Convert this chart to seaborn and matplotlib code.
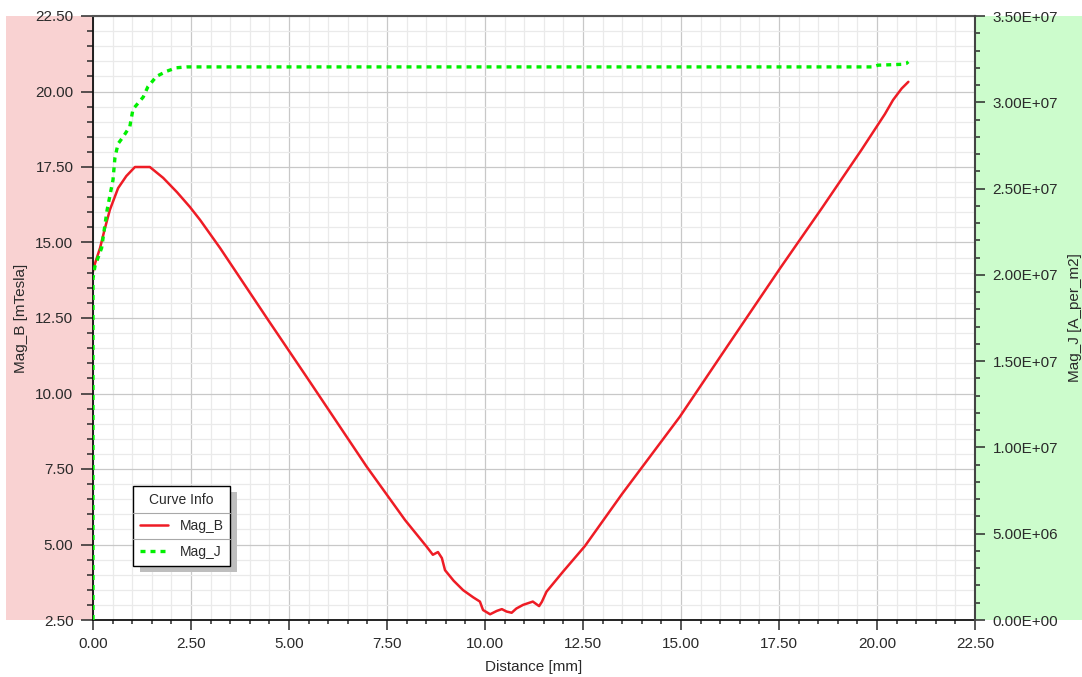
import matplotlib
matplotlib.use("Agg")
import matplotlib.pyplot as plt
import numpy as np
import pandas as pd
import seaborn as sns
from matplotlib.ticker import MultipleLocator, FuncFormatter
from matplotlib.patches import Rectangle
from matplotlib.lines import Line2D

# ---------------- data ----------------
distance_b = [0.00, 0.05, 0.18, 0.30, 0.43, 0.64, 0.85, 1.07, 1.45, 1.79, 2.14, 2.47, 2.73,
              3.24, 4.47, 5.50, 6.98, 7.96, 8.51, 8.67, 8.80, 8.90, 8.98, 9.20, 9.44, 9.70,
              9.87, 9.95, 10.13, 10.30, 10.43, 10.55, 10.68, 10.80, 10.97, 11.22, 11.38,
              11.45, 11.57, 11.99, 12.55, 13.50, 14.97, 16.20, 17.53, 18.60, 19.60, 20.20,
              20.41, 20.63, 20.80]
mag_b = [14.05, 14.30, 14.82, 15.45, 16.08, 16.80, 17.20, 17.50, 17.50, 17.14, 16.67, 16.18,
         15.75, 14.82, 12.43, 10.45, 7.58, 5.81, 4.93, 4.66, 4.75, 4.55, 4.15, 3.80, 3.49,
         3.25, 3.11, 2.83, 2.69, 2.80, 2.86, 2.78, 2.74, 2.88, 3.00, 3.11, 2.96, 3.10, 3.44,
         4.10, 4.95, 6.68, 9.23, 11.60, 14.15, 16.15, 18.06, 19.25, 19.72, 20.10, 20.32]

distance_j = [0.00, 0.00, 0.05, 0.22, 0.36, 0.51, 0.56, 0.64, 0.77, 0.94, 1.02, 1.28, 1.40,
              1.62, 1.88, 2.13, 2.39, 19.90, 20.03, 20.63, 20.75, 20.80]
mag_j = [0.0, 1.98e7, 2.05e7, 2.156e7, 2.376e7, 2.55e7, 2.68e7, 2.76e7, 2.80e7, 2.86e7,
         2.96e7, 3.03e7, 3.09e7, 3.15e7, 3.18e7, 3.20e7, 3.205e7, 3.205e7, 3.215e7, 3.22e7,
         3.225e7, 3.235e7]

series_names = ["Mag_B", "Mag_J"]
legend_title = "Curve Info"
x_label = "Distance [mm]"
y_label_left = "Mag_B [mTesla]"
y_label_right = "Mag_J [A_per_m2]"

# ---------------- style ----------------
sns.set_style("white")
plt.rcParams['font.family'] = ['Liberation Sans', 'DejaVu Sans']
TXT = '#2A2A2A'
FS = 11

W, H = 1082, 677
L, R, T, B = 93, 975, 16, 620
fig = plt.figure(figsize=(W / 100, H / 100), dpi=100)
fig.patch.set_facecolor('white')

def frac_rect(x0, y0, x1, y1):
    return (x0 / W, 1 - y1 / H), (x1 - x0) / W, (y1 - y0) / H

# side panels
xy, w, h = frac_rect(6, T, L, B)
fig.add_artist(Rectangle(xy, w, h, transform=fig.transFigure, facecolor='#F9D2D2',
                         edgecolor='none', zorder=-1))
xy, w, h = frac_rect(R, T, W, B)
fig.add_artist(Rectangle(xy, w, h, transform=fig.transFigure, facecolor='#CCFCCC',
                         edgecolor='none', zorder=-1))

ax = fig.add_axes([L / W, 1 - B / H, (R - L) / W, (B - T) / H])
ax.set_facecolor('white')

dfb = pd.DataFrame({'Distance': distance_b, 'Mag_B': mag_b})
dfj = pd.DataFrame({'Distance': distance_j, 'Mag_J': mag_j})

sns.lineplot(data=dfb, x='Distance', y='Mag_B', ax=ax, color='#EE1C25', lw=1.8,
             estimator=None, sort=False, legend=False)
ax2 = ax.twinx()
sns.lineplot(data=dfj, x='Distance', y='Mag_J', ax=ax2, color='#00F000', lw=2.4,
             estimator=None, sort=False, legend=False, linestyle=(0, (1.5, 1.5)))

ax.set_xlim(0, 22.5)
ax.set_ylim(2.5, 22.5)
ax2.set_ylim(0, 3.5e7)

ax.xaxis.set_major_locator(MultipleLocator(2.5))
ax.xaxis.set_minor_locator(MultipleLocator(0.5))
ax.yaxis.set_major_locator(MultipleLocator(2.5))
ax.yaxis.set_minor_locator(MultipleLocator(0.5))
ax2.yaxis.set_major_locator(MultipleLocator(5e6))
ax2.yaxis.set_minor_locator(MultipleLocator(1e6))
ax.xaxis.set_major_formatter(FuncFormatter(lambda v, p: f"{v:.2f}"))
ax.yaxis.set_major_formatter(FuncFormatter(lambda v, p: f"{v:.2f}"))
ax2.yaxis.set_major_formatter(FuncFormatter(lambda v, p: f"{v:.2E}"))

ax.grid(True, which='major', color='#C8C8C8', lw=0.9)
ax.grid(True, which='minor', color='#EAEAEA', lw=0.9)
ax.set_axisbelow(True)

ax.tick_params(axis='y', which='both', left=True, right=False, direction='out',
               color=TXT, width=1.1, labelsize=FS, labelcolor=TXT, pad=5.5)
ax.tick_params(axis='y', which='major', length=8.6)
ax.tick_params(axis='y', which='minor', length=4.3)
ax.tick_params(axis='x', which='both', bottom=True, top=False, direction='out',
               color=TXT, width=1.1, labelsize=FS, labelcolor=TXT, pad=5)
ax.tick_params(axis='x', which='major', length=7.5)
ax.tick_params(axis='x', which='minor', length=3.0)
ax2.tick_params(axis='y', which='both', right=True, left=False, direction='out',
                color=TXT, width=1.1, labelsize=FS, labelcolor=TXT, pad=5.5)
ax2.tick_params(axis='y', which='major', length=7.2)
ax2.tick_params(axis='y', which='minor', length=3.6)

for s in ['left', 'bottom']:
    ax.spines[s].set_color('#111111'); ax.spines[s].set_linewidth(1.3)
ax.spines['top'].set_color('#555555'); ax.spines['top'].set_linewidth(1.5)
ax.spines['right'].set_visible(False)
for s in ['left', 'bottom', 'top']:
    ax2.spines[s].set_visible(False)
ax2.spines['right'].set_visible(True)
ax2.spines['right'].set_color('#444444'); ax2.spines['right'].set_linewidth(1.5)

ax.set_xlabel(x_label, fontsize=FS, color=TXT)
ax.xaxis.set_label_coords(0.5, -0.066)
ax.set_ylabel(y_label_left, fontsize=FS, color=TXT)
ax.yaxis.set_label_coords(-0.074, 0.5)
ax2.set_ylabel(y_label_right, fontsize=FS, color=TXT)
ax2.yaxis.set_label_coords(1.1054, 0.5)

# legend
handles = [ax.lines[0], ax2.lines[0]]
leg = ax2.legend(handles, series_names, title=legend_title, loc='upper left',
                 bbox_to_anchor=(133 / W, 1 - 486 / H), bbox_transform=fig.transFigure,
                 borderaxespad=0, frameon=True, fancybox=False, edgecolor='black',
                 framealpha=1, fontsize=10, title_fontsize=10, handlelength=2.0,
                 handletextpad=0.85, borderpad=0.5, labelspacing=0.85)
leg.get_frame().set_linewidth(1.0)
for t in leg.get_texts():
    t.set_color(TXT)
leg.get_title().set_color(TXT)

fig.canvas.draw()
r = fig.canvas.get_renderer()
fb = leg.get_frame().get_window_extent(r)
inv = fig.transFigure.inverted()
# shadow
(sx0, sy0) = inv.transform((fb.x0 + 7, fb.y0 - 6))
(sx1, sy1) = inv.transform((fb.x1 + 7, fb.y1 - 6))
ax2.add_patch(Rectangle((sx0, sy0), sx1 - sx0, sy1 - sy0, transform=fig.transFigure,
                        facecolor='#BEBEBE', edgecolor='none', zorder=4.5, clip_on=False))
tb = leg.get_title().get_window_extent(r)
t1, t2 = [t.get_window_extent(r) for t in leg.get_texts()]
for yy in [(tb.y0 + t1.y1) / 2, (t1.y0 + t2.y1) / 2]:
    (a0, b0) = inv.transform((fb.x0, yy))
    (a1, b1) = inv.transform((fb.x1, yy))
    fig.add_artist(Line2D([a0, a1], [b0, b1], transform=fig.transFigure,
                          color='#A8A8A8', lw=0.8, zorder=10))

fig.savefig('out.png', dpi=100)
